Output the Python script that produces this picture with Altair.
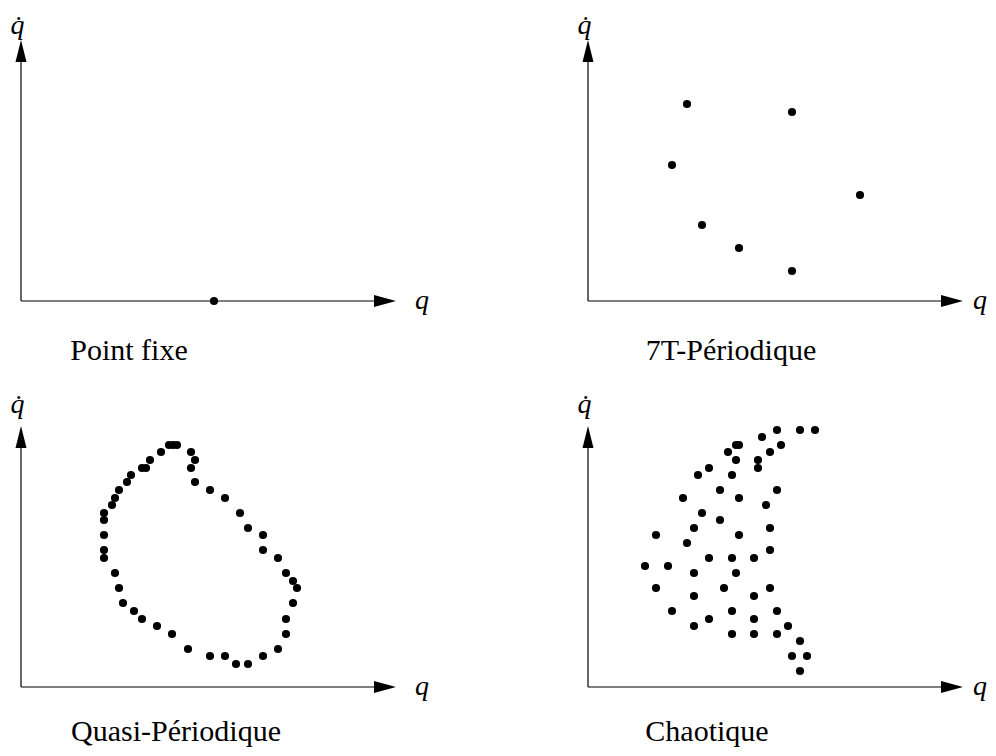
import altair as alt
import pandas as pd

# ------------------------------------------------------------------
# Data (arbitrary units, origin = crossing of the two axes of a panel)
# ------------------------------------------------------------------
AXIS_Q_LEN = 375      # length of the q axis (arrow tip)
AXIS_QD_LEN = 261     # length of the q-dot axis (arrow tip)

fixe_q = [193]
fixe_qd = [0]

per7_q = [99, 204, 84, 272, 114, 151, 204]
per7_qd = [197, 189, 136, 106, 76, 53, 30]

quasi_q = [148, 152, 156, 170, 174, 170, 174, 189, 204, 219, 227, 242, 242, 257,
           265, 272, 276, 272, 265, 265, 257, 242, 227, 215, 204, 189, 167, 151,
           136, 121, 113, 102, 98, 94, 83, 83, 83, 83, 83, 91, 94, 98, 106, 110,
           121, 125, 129, 140]
quasi_qd = [242, 242, 242, 235, 227, 219, 205, 197, 189, 174, 159, 152, 137, 129,
            114, 106, 99, 84, 68, 53, 38, 31, 23, 23, 31, 31, 38, 53,
            61, 68, 76, 84, 99, 114, 129, 137, 152, 167, 174, 182, 189, 197, 205, 212,
            219, 219, 227, 235]

chaos_q = [189, 212, 227, 174, 148, 151, 193, 140, 182, 148, 170, 170, 121, 110,
           144, 132, 189, 95, 151, 178, 114, 132, 106, 182, 68, 151, 99, 182,
           121, 144, 166, 57, 80, 106, 148, 68, 136, 182, 106, 166, 84, 144,
           189, 121, 166, 106, 200, 144, 166, 189, 212, 204, 219, 212]
chaos_qd = [257, 257, 257, 250, 242, 242, 242, 235, 235, 227, 227, 219, 219, 212,
            212, 197, 197, 189, 189, 182, 174, 167, 159, 159, 152, 152, 144, 137,
            129, 129, 129, 121, 121, 114, 114, 99, 99, 99, 91, 91, 76, 76,
            76, 68, 68, 61, 61, 53, 53, 53, 46, 31, 31, 16]

captions = ["Point fixe", "7T-Périodique", "Quasi-Périodique", "Chaotique"]
x_label = "q"
y_label = "q\u0307"

# ------------------------------------------------------------------
# Layout (pixels of the single 980 x 740 view)
# ------------------------------------------------------------------
W, H = 980, 740
FONT = "'Liberation Serif', 'DejaVu Serif', serif"
FS_CAP = 30
FS = 28

# per panel: origin (px in view), caption anchor, label anchors (data units)
panels = [
    dict(q=fixe_q, qd=fixe_qd, cap=captions[0], ox=13, oy=293,
         cap_q=108, cap_qd=-59, ql_q=394, yl_qd=267),
    dict(q=per7_q, qd=per7_qd, cap=captions[1], ox=580, oy=293,
         cap_q=143, cap_qd=-59, ql_q=385, yl_qd=267),
    dict(q=quasi_q, qd=quasi_qd, cap=captions[2], ox=13, oy=679,
         cap_q=155, cap_qd=-54, ql_q=394, yl_qd=274),
    dict(q=chaos_q, qd=chaos_qd, cap=captions[3], ox=580, oy=679,
         cap_q=119, cap_qd=-54, ql_q=385, yl_qd=274),
]

ARROW_RIGHT = "M0,0L-2,-0.55L-2,0.55Z"
ARROW_UP = "M0,0L-0.5,2L0.5,2Z"


def make_panel(p):
    xs = alt.Scale(domain=[-p["ox"], W - p["ox"]], nice=False, zero=False)
    ys = alt.Scale(domain=[p["oy"] - H, p["oy"]], nice=False, zero=False)

    def X(f="q"):
        return alt.X(f"{f}:Q", scale=xs, axis=None)

    def Y(f="qd"):
        return alt.Y(f"{f}:Q", scale=ys, axis=None)

    axes_df = pd.DataFrame({"q": [0, 0], "qd": [0, 0],
                            "q2": [AXIS_Q_LEN - 10, 0],
                            "qd2": [0, AXIS_QD_LEN - 10]})
    axes = alt.Chart(axes_df).mark_rule(color="black", strokeWidth=1.2).encode(
        x=X(), y=Y(), x2=alt.X2("q2:Q"), y2=alt.Y2("qd2:Q"))

    arr_r = alt.Chart(pd.DataFrame({"q": [AXIS_Q_LEN], "qd": [0]})).mark_point(
        shape=ARROW_RIGHT, filled=True, size=484, color="black", opacity=1,
        strokeWidth=0).encode(x=X(), y=Y())
    arr_u = alt.Chart(pd.DataFrame({"q": [0], "qd": [AXIS_QD_LEN]})).mark_point(
        shape=ARROW_UP, filled=True, size=484, color="black", opacity=1,
        strokeWidth=0).encode(x=X(), y=Y())

    dots = alt.Chart(pd.DataFrame({"q": p["q"], "qd": p["qd"]})).mark_circle(
        size=66, color="black", opacity=1).encode(x=X(), y=Y())

    cap = alt.Chart(pd.DataFrame({"q": [p["cap_q"]], "qd": [p["cap_qd"]],
                                  "t": [p["cap"]]})).mark_text(
        font=FONT, fontSize=FS_CAP, color="black", align="center",
        baseline="alphabetic").encode(x=X(), y=Y(), text="t:N")

    qlab = alt.Chart(pd.DataFrame({"q": [p["ql_q"]], "qd": [-8],
                                   "t": [x_label]})).mark_text(
        font=FONT, fontSize=FS, fontStyle="italic", color="black", align="left",
        baseline="alphabetic").encode(x=X(), y=Y(), text="t:N")

    qdlab = alt.Chart(pd.DataFrame({"q": [-3.5], "qd": [p["yl_qd"]],
                                    "t": [y_label]})).mark_text(
        font=FONT, fontSize=FS, fontStyle="italic", color="black", align="center",
        baseline="alphabetic").encode(x=X(), y=Y(), text="t:N")

    return alt.layer(axes, arr_r, arr_u, dots, cap, qlab, qdlab)


chart = alt.layer(*[make_panel(p) for p in panels]).resolve_scale(
    x="independent", y="independent"
).properties(
    width=W, height=H,
    autosize=alt.AutoSizeParams(type="none"),
    padding=0,
).configure_view(stroke=None)

chart.save("out.html", embed_options={"renderer": "svg", "actions": False})
